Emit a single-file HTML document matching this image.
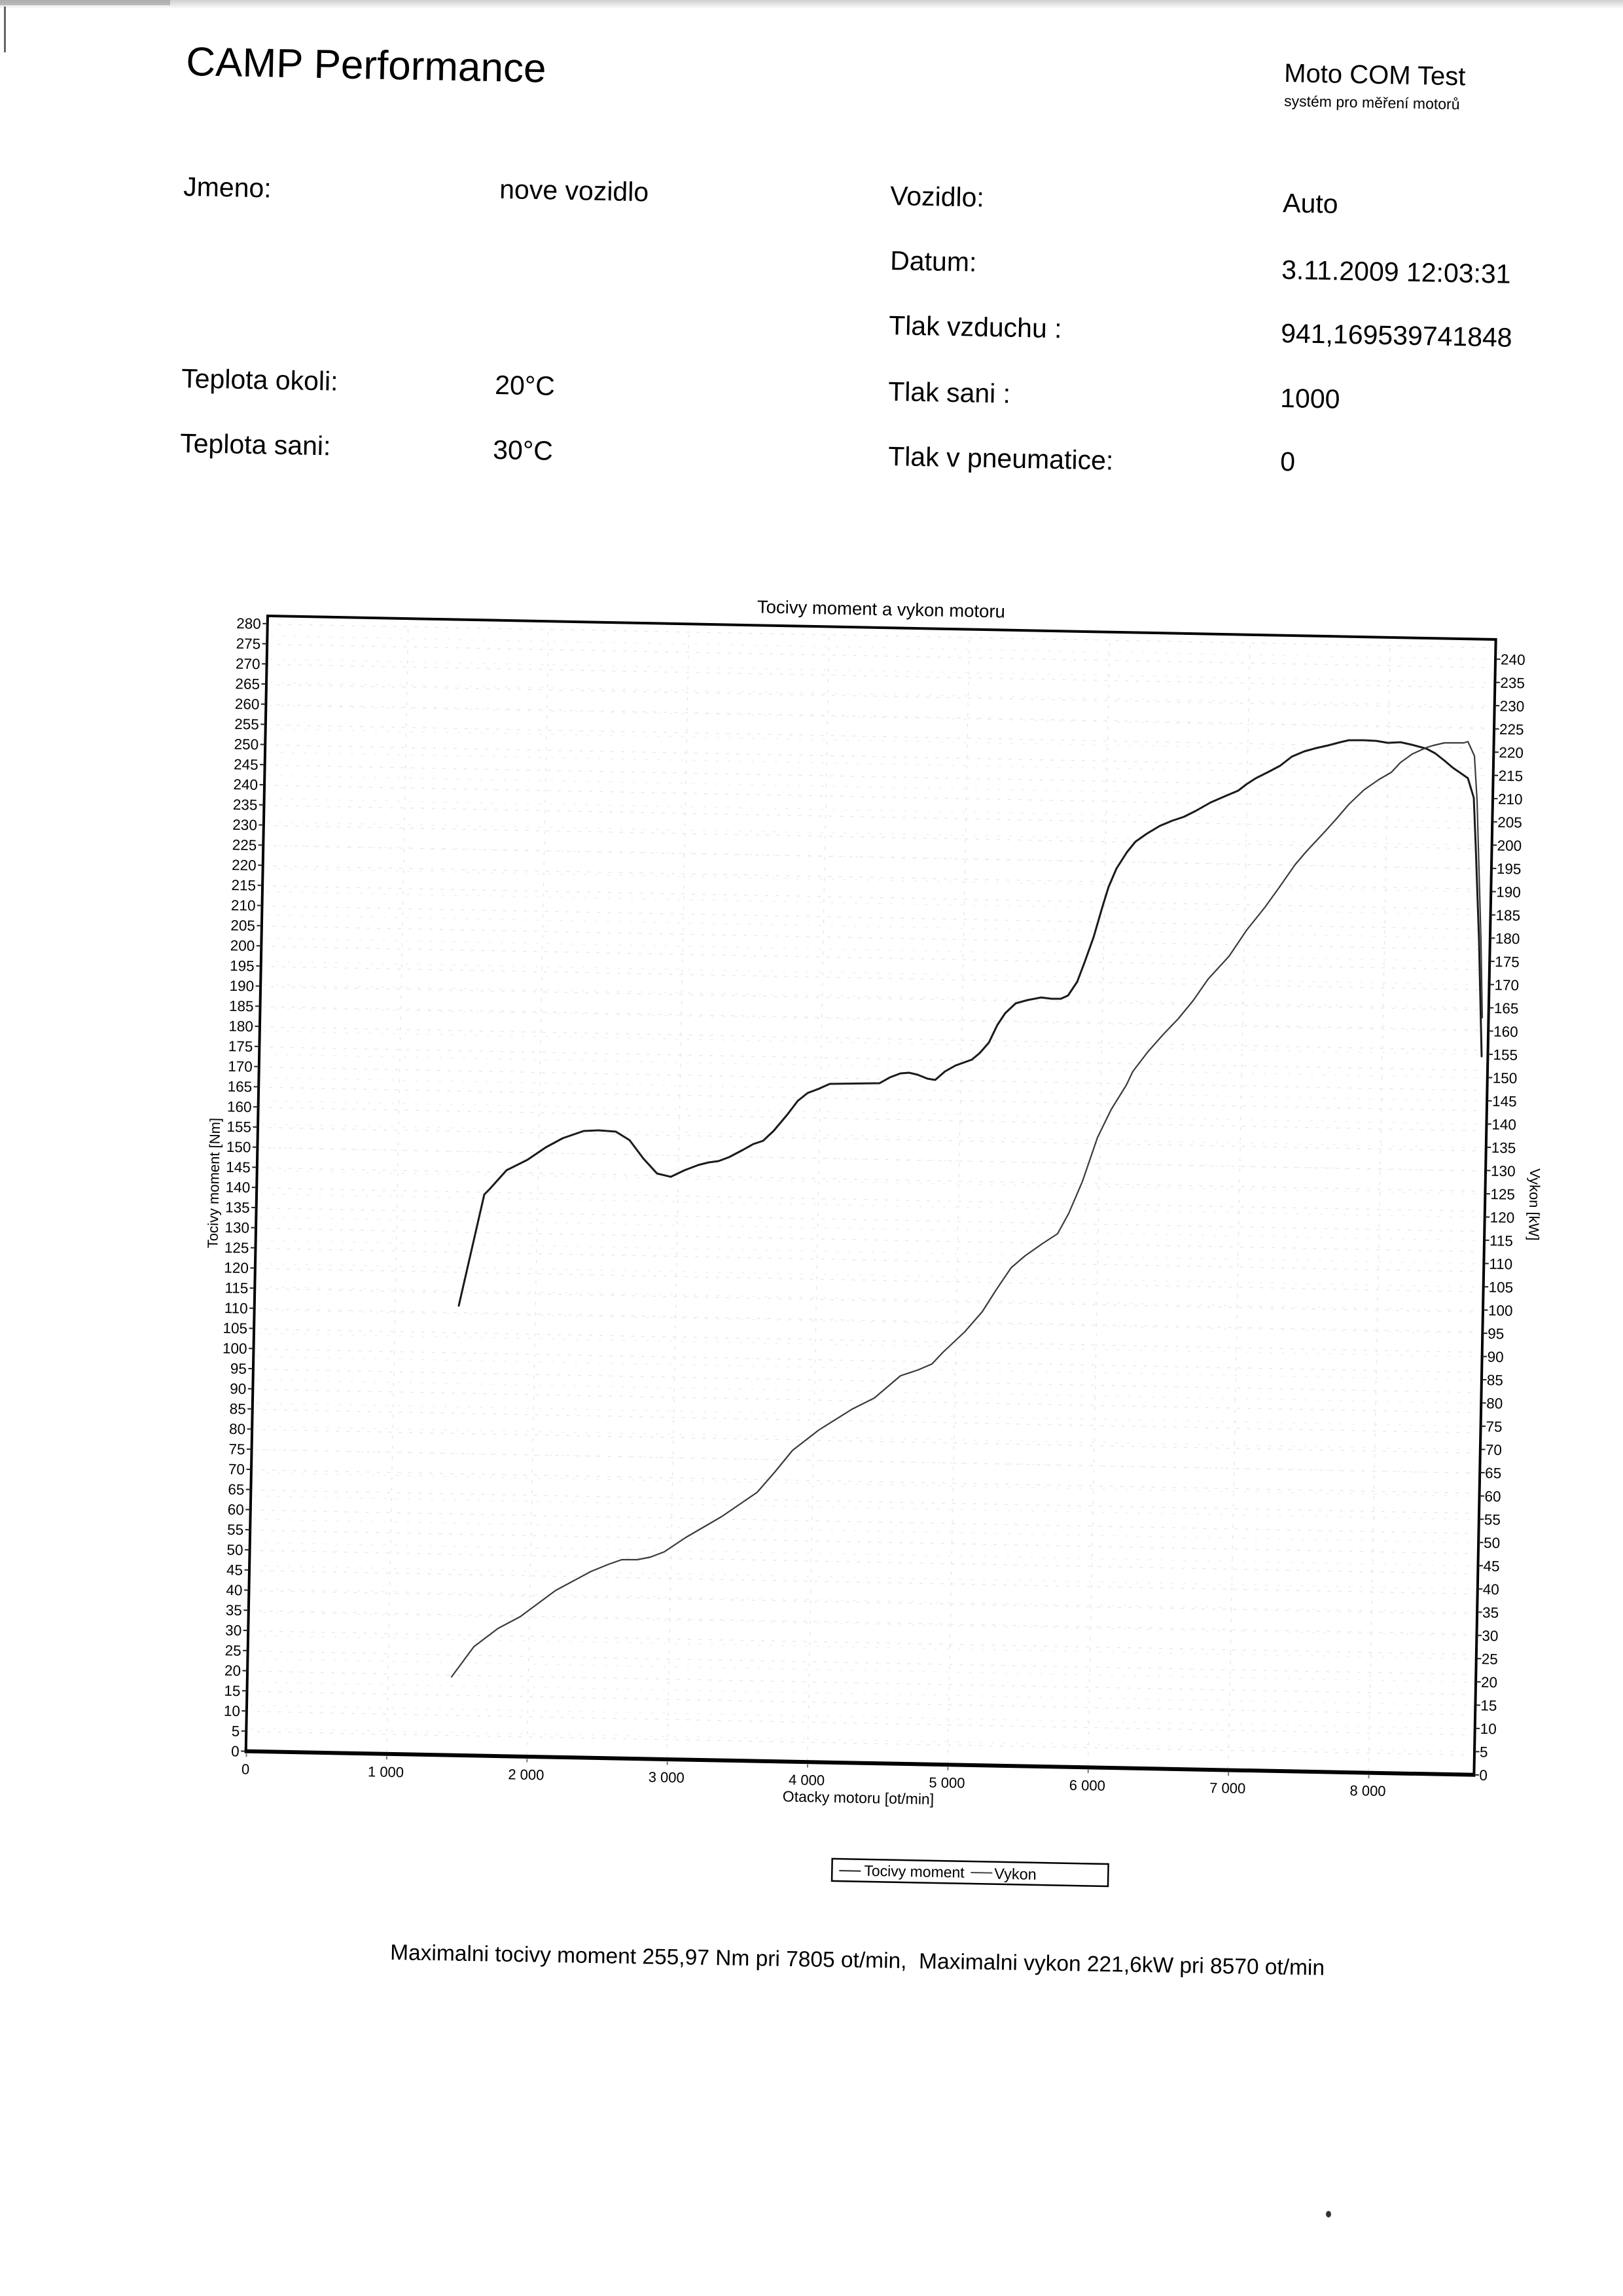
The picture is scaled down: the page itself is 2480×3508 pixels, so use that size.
<!DOCTYPE html>
<html>
<head>
<meta charset="utf-8">
<style>
html,body{margin:0;padding:0;background:#fff;}
svg{display:block;}
</style>
</head>
<body>
<svg width="2480" height="3508" viewBox="0 0 2480 3508" xmlns="http://www.w3.org/2000/svg" font-family="'Liberation Sans', Arial, sans-serif" fill="#000">
<defs>
  <linearGradient id="topg" x1="0" y1="0" x2="0" y2="1">
    <stop offset="0" stop-color="#a8a8a8"/>
    <stop offset="1" stop-color="#ffffff"/>
  </linearGradient>
  <pattern id="gNm" patternUnits="userSpaceOnUse" x="0" y="11.9" width="16" height="30.77">
    <rect x="0" y="0" width="5" height="1.2" fill="#e4e4e4"/>
  </pattern>
  <pattern id="gkW" patternUnits="userSpaceOnUse" x="5" y="30" width="18" height="35.52">
    <rect x="0" y="0" width="4" height="1.2" fill="#ececec"/>
  </pattern>
  <pattern id="gV" patternUnits="userSpaceOnUse" x="0" y="0" width="214.4" height="16">
    <rect x="0" y="0" width="1.2" height="5" fill="#e4e4e4"/>
  </pattern>
</defs>

<rect x="0" y="0" width="2480" height="3508" fill="#fff"/>
<rect x="0" y="0" width="2480" height="14" fill="url(#topg)" opacity="0.55"/>
<rect x="0" y="0" width="260" height="8" fill="#8a8a8a" opacity="0.5"/>
<rect x="6" y="10" width="3" height="70" fill="#666"/>
<ellipse cx="2030" cy="3383" rx="4" ry="5" fill="#333"/>

<!-- Header -->
<text x="284" y="115" font-size="62" transform="rotate(1.1 284 115)">CAMP Performance</text>
<text x="1962" y="125" font-size="40" transform="rotate(1.1 1962 125)">Moto COM Test</text>
<text x="1962" y="162" font-size="23" transform="rotate(1.1 1962 162)">systém pro měření motorů</text>

<g font-size="41">
<text x="280" y="299" transform="rotate(1.1 280 299)">Jmeno:</text>
<text x="763" y="303" transform="rotate(1.1 763 303)">nove vozidlo</text>
<text x="1360" y="313" transform="rotate(1.1 1360 313)">Vozidlo:</text>
<text x="1960" y="324" transform="rotate(1.1 1960 324)">Auto</text>
<text x="1360" y="412" transform="rotate(1.1 1360 412)">Datum:</text>
<text x="1958" y="426" transform="rotate(1.1 1958 426)">3.11.2009 12:03:31</text>
<text x="1358" y="511" transform="rotate(1.1 1358 511)">Tlak vzduchu :</text>
<text x="1957" y="523" transform="rotate(1.1 1957 523)">941,169539741848</text>
<text x="277" y="592" transform="rotate(1.1 277 592)">Teplota okoli:</text>
<text x="756" y="602" transform="rotate(1.1 756 602)">20°C</text>
<text x="1357" y="612" transform="rotate(1.1 1357 612)">Tlak sani :</text>
<text x="1956" y="622" transform="rotate(1.1 1956 622)">1000</text>
<text x="275" y="691" transform="rotate(1.1 275 691)">Teplota sani:</text>
<text x="753" y="701" transform="rotate(1.1 753 701)">30°C</text>
<text x="1357" y="711" transform="rotate(1.1 1357 711)">Tlak v pneumatice:</text>
<text x="1956" y="719" transform="rotate(1.1 1956 719)">0</text>
</g>

<!-- Chart (rotated frame) -->
<g transform="translate(409 941) rotate(1.1)">
  <!-- grid -->
  <rect x="6" y="4" width="1866" height="1728" fill="url(#gkW)"/>
  <rect x="6" y="4" width="1866" height="1728" fill="url(#gNm)"/>
  <rect x="2" y="4" width="1872" height="1728" fill="url(#gV)"/>

  <!-- frame -->
  <rect x="0" y="0" width="1877" height="1735" fill="none" stroke="#000" stroke-width="4"/>
  <line x1="-2" y1="1735" x2="1879" y2="1735" stroke="#000" stroke-width="6"/>

  <!-- ticks -->
  <line x1="-4" y1="1736" x2="-4" y2="0" stroke="#222" stroke-width="7" stroke-dasharray="2 28.77"/>
  <line x1="1881" y1="1736" x2="1881" y2="0" stroke="#222" stroke-width="7" stroke-dasharray="2 33.52"/>
  <line x1="0" y1="1741" x2="1877" y2="1741" stroke="#777" stroke-width="5" stroke-dasharray="2 212.4"/>

  <!-- title -->
  <text x="937" y="-19" text-anchor="middle" font-size="27.5">Tocivy moment a vykon motoru</text>

  <!-- left labels -->
  <g font-size="22.5" text-anchor="end">
    <text x="-10" y="1743">0</text>
    <text x="-10" y="1712.2">5</text>
    <text x="-10" y="1681.5">10</text>
    <text x="-10" y="1650.7">15</text>
    <text x="-10" y="1619.9">20</text>
    <text x="-10" y="1589.2">25</text>
    <text x="-10" y="1558.4">30</text>
    <text x="-10" y="1527.6">35</text>
    <text x="-10" y="1496.8">40</text>
    <text x="-10" y="1466.1">45</text>
    <text x="-10" y="1435.3">50</text>
    <text x="-10" y="1404.5">55</text>
    <text x="-10" y="1373.8">60</text>
    <text x="-10" y="1343.0">65</text>
    <text x="-10" y="1312.2">70</text>
    <text x="-10" y="1281.5">75</text>
    <text x="-10" y="1250.7">80</text>
    <text x="-10" y="1219.9">85</text>
    <text x="-10" y="1189.1">90</text>
    <text x="-10" y="1158.4">95</text>
    <text x="-10" y="1127.6">100</text>
    <text x="-10" y="1096.8">105</text>
    <text x="-10" y="1066.1">110</text>
    <text x="-10" y="1035.3">115</text>
    <text x="-10" y="1004.5">120</text>
    <text x="-10" y="973.8">125</text>
    <text x="-10" y="943.0">130</text>
    <text x="-10" y="912.2">135</text>
    <text x="-10" y="881.4">140</text>
    <text x="-10" y="850.7">145</text>
    <text x="-10" y="819.9">150</text>
    <text x="-10" y="789.1">155</text>
    <text x="-10" y="758.4">160</text>
    <text x="-10" y="727.6">165</text>
    <text x="-10" y="696.8">170</text>
    <text x="-10" y="666.1">175</text>
    <text x="-10" y="635.3">180</text>
    <text x="-10" y="604.5">185</text>
    <text x="-10" y="573.7">190</text>
    <text x="-10" y="543.0">195</text>
    <text x="-10" y="512.2">200</text>
    <text x="-10" y="481.4">205</text>
    <text x="-10" y="450.7">210</text>
    <text x="-10" y="419.9">215</text>
    <text x="-10" y="389.1">220</text>
    <text x="-10" y="358.4">225</text>
    <text x="-10" y="327.6">230</text>
    <text x="-10" y="296.8">235</text>
    <text x="-10" y="266.0">240</text>
    <text x="-10" y="235.3">245</text>
    <text x="-10" y="204.5">250</text>
    <text x="-10" y="173.7">255</text>
    <text x="-10" y="143.0">260</text>
    <text x="-10" y="112.2">265</text>
    <text x="-10" y="81.4">270</text>
    <text x="-10" y="50.7">275</text>
    <text x="-10" y="19.9">280</text>
  </g>

  <!-- right labels -->
  <g font-size="22.5" text-anchor="start">
    <text x="1885" y="1743">0</text>
    <text x="1885" y="1707.5">5</text>
    <text x="1885" y="1672.0">10</text>
    <text x="1885" y="1636.4">15</text>
    <text x="1885" y="1600.9">20</text>
    <text x="1885" y="1565.4">25</text>
    <text x="1885" y="1529.9">30</text>
    <text x="1885" y="1494.4">35</text>
    <text x="1885" y="1458.8">40</text>
    <text x="1885" y="1423.3">45</text>
    <text x="1885" y="1387.8">50</text>
    <text x="1885" y="1352.3">55</text>
    <text x="1885" y="1316.8">60</text>
    <text x="1885" y="1281.2">65</text>
    <text x="1885" y="1245.7">70</text>
    <text x="1885" y="1210.2">75</text>
    <text x="1885" y="1174.7">80</text>
    <text x="1885" y="1139.2">85</text>
    <text x="1885" y="1103.6">90</text>
    <text x="1885" y="1068.1">95</text>
    <text x="1885" y="1032.6">100</text>
    <text x="1885" y="997.1">105</text>
    <text x="1885" y="961.6">110</text>
    <text x="1885" y="926.0">115</text>
    <text x="1885" y="890.5">120</text>
    <text x="1885" y="855.0">125</text>
    <text x="1885" y="819.5">130</text>
    <text x="1885" y="784.0">135</text>
    <text x="1885" y="748.4">140</text>
    <text x="1885" y="712.9">145</text>
    <text x="1885" y="677.4">150</text>
    <text x="1885" y="641.9">155</text>
    <text x="1885" y="606.4">160</text>
    <text x="1885" y="570.8">165</text>
    <text x="1885" y="535.3">170</text>
    <text x="1885" y="499.8">175</text>
    <text x="1885" y="464.3">180</text>
    <text x="1885" y="428.8">185</text>
    <text x="1885" y="393.2">190</text>
    <text x="1885" y="357.7">195</text>
    <text x="1885" y="322.2">200</text>
    <text x="1885" y="286.7">205</text>
    <text x="1885" y="251.2">210</text>
    <text x="1885" y="215.6">215</text>
    <text x="1885" y="180.1">220</text>
    <text x="1885" y="144.6">225</text>
    <text x="1885" y="109.1">230</text>
    <text x="1885" y="73.6">235</text>
    <text x="1885" y="38.0">240</text>
  </g>

  <!-- x labels -->
  <g font-size="22" text-anchor="middle">
    <text x="0" y="1770">0</text>
    <text x="214.4" y="1770">1 000</text>
    <text x="428.8" y="1770">2 000</text>
    <text x="643.2" y="1770">3 000</text>
    <text x="857.6" y="1770">4 000</text>
    <text x="1072" y="1770">5 000</text>
    <text x="1286.4" y="1770">6 000</text>
    <text x="1500.8" y="1770">7 000</text>
    <text x="1715.2" y="1770">8 000</text>
  </g>
  <text x="937" y="1796" text-anchor="middle" font-size="23">Otacky motoru [ot/min]</text>

  <!-- axis titles -->
  <text transform="translate(-66 868) rotate(-90)" text-anchor="middle" dy="8" font-size="22">Tocivy moment [Nm]</text>
  <text transform="translate(1953 862) rotate(90)" text-anchor="middle" dy="8" font-size="22">Vykon [kW]</text>

  <!-- legend -->
  <rect x="899" y="1882" width="422" height="34" fill="#fff" stroke="#000" stroke-width="2.5"/>
  <line x1="910" y1="1900" x2="943" y2="1900" stroke="#222" stroke-width="2"/>
  <text x="948" y="1907" font-size="23">Tocivy moment</text>
  <line x1="1111" y1="1899" x2="1144" y2="1899" stroke="#444" stroke-width="2"/>
  <text x="1147" y="1908" font-size="23.5">Vykon</text>
</g>

<!-- Curves (page coordinates) -->
<polyline fill="none" stroke="#1a1a1a" stroke-width="3" stroke-linejoin="round" stroke-linecap="round" points="701,1995 740,1825 748,1817 774,1788 806,1772 834,1753 860,1739 892,1728 915,1727 941,1729 962,1742 983,1770 1004,1793 1025,1798 1046,1788 1067,1780 1083,1776 1098,1774 1114,1768 1135,1757 1151,1748 1166,1743 1182,1728 1203,1703 1219,1682 1234,1670 1250,1664 1268,1656 1344,1655 1360,1646 1376,1640 1389,1639 1402,1642 1417,1648 1429,1650 1444,1637 1460,1628 1485,1619 1497,1609 1511,1593 1524,1566 1536,1548 1552,1533 1570,1528 1591,1524 1607,1526 1621,1526 1632,1521 1646,1500 1657,1471 1671,1432 1685,1384 1694,1355 1706,1327 1722,1302 1735,1286 1752,1274 1772,1262 1791,1254 1809,1248 1827,1239 1850,1226 1873,1216 1892,1208 1905,1198 1919,1189 1937,1180 1956,1170 1974,1156 1993,1148 2011,1143 2029,1139 2048,1134 2061,1131 2084,1131 2103,1132 2121,1135 2140,1134 2158,1138 2180,1144 2193,1151 2207,1162 2220,1173 2233,1182 2243,1189 2252,1219 2255,1294 2260,1437 2264,1614"/>

<polyline fill="none" stroke="#3a3a3a" stroke-width="2.2" stroke-linejoin="round" stroke-linecap="round" points="690,2562 724,2516 761,2488 795,2470 849,2430 903,2401 930,2390 950,2383 974,2383 994,2379 1015,2371 1048,2349 1103,2317 1157,2280 1184,2249 1211,2216 1251,2185 1302,2153 1336,2136 1376,2102 1403,2093 1424,2084 1441,2066 1474,2035 1501,2004 1522,1971 1545,1937 1566,1919 1593,1900 1616,1885 1633,1854 1654,1805 1677,1738 1698,1695 1721,1658 1731,1637 1754,1607 1777,1581 1800,1557 1823,1529 1846,1496 1878,1461 1905,1421 1933,1386 1956,1354 1979,1321 1997,1300 2025,1270 2043,1250 2061,1229 2084,1207 2107,1191 2126,1180 2140,1165 2158,1152 2180,1142 2190,1139 2207,1135 2220,1135 2237,1135 2243,1133 2253,1155 2257,1223 2260,1330 2263,1437 2265,1555"/>

<!-- Bottom summary -->
<text x="596" y="2994" font-size="33.5" transform="rotate(0.95 596 2994)">Maximalni tocivy moment 255,97 Nm pri 7805 ot/min,&#160; Maximalni vykon 221,6kW pri 8570 ot/min</text>
</svg>
</body>
</html>
